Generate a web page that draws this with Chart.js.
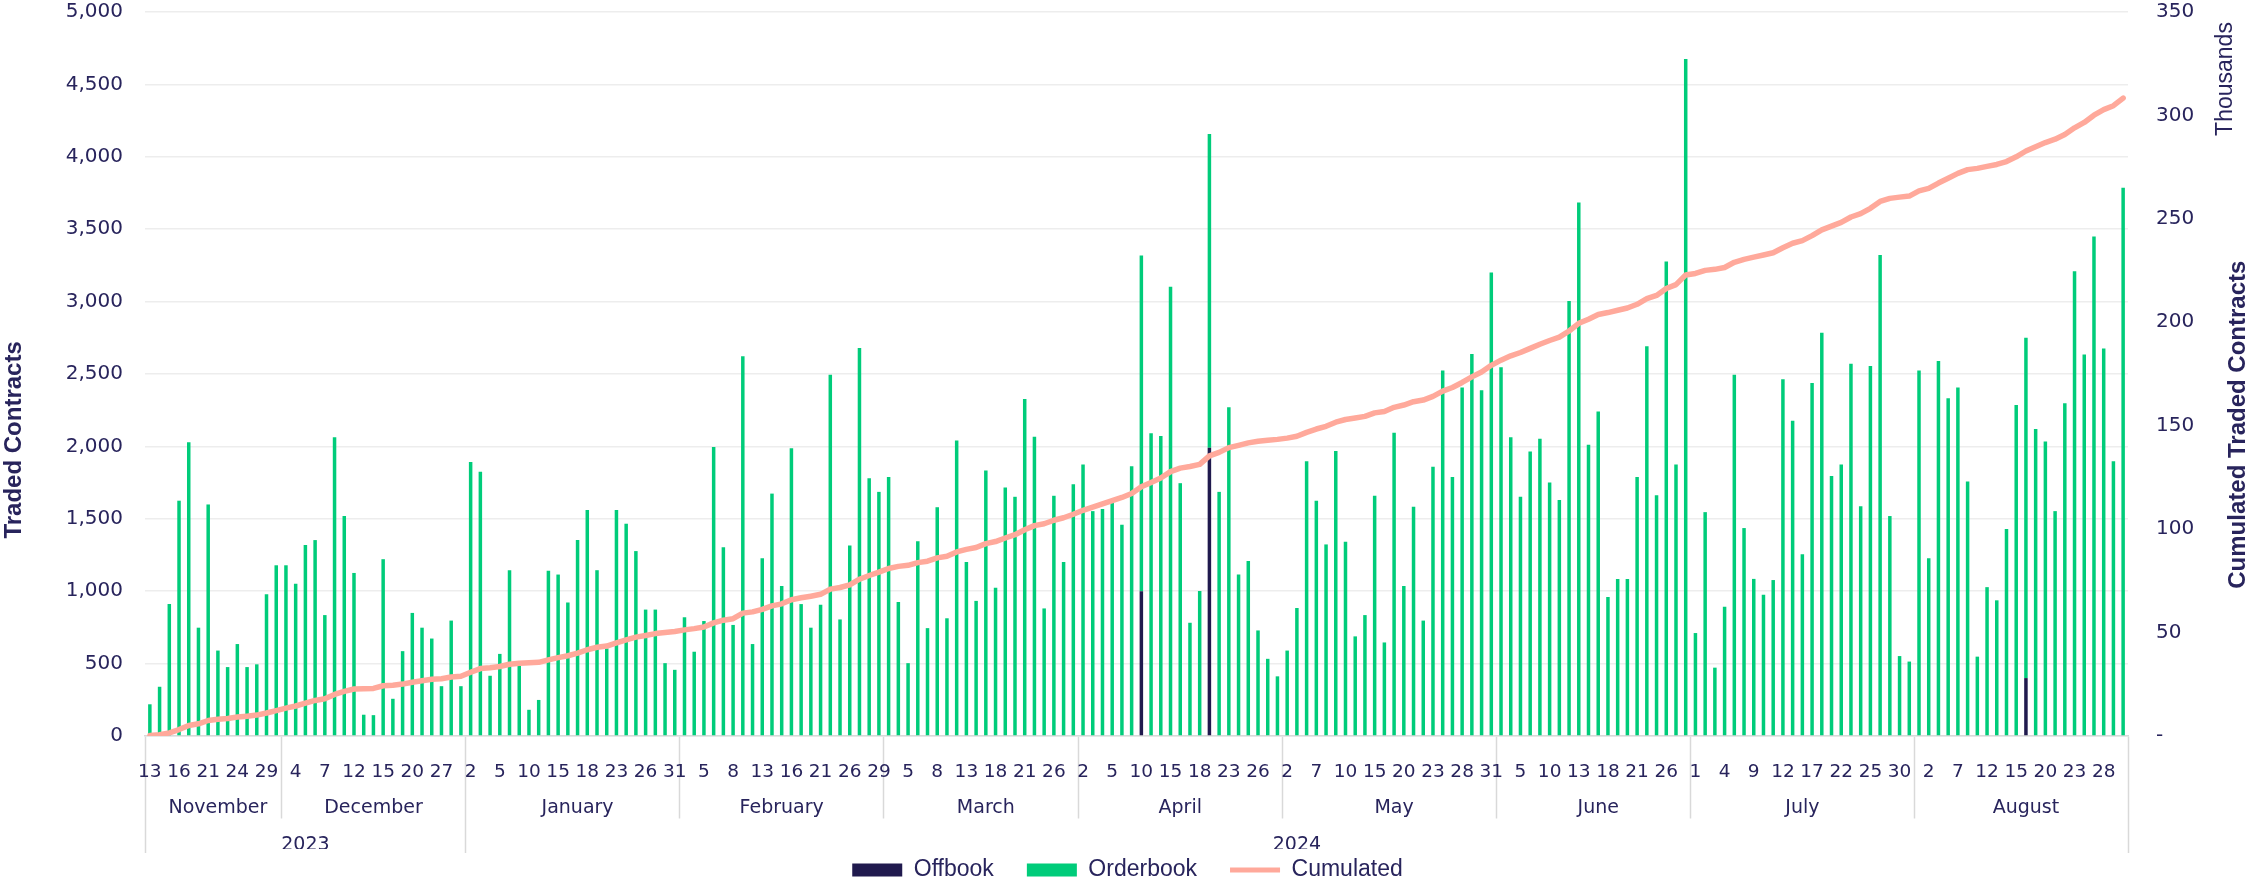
<!DOCTYPE html>
<html>
<head>
<meta charset="utf-8">
<script src="https://cdn.jsdelivr.net/npm/chart.js@4/dist/chart.umd.min.js"></script>
<style>
  html, body { margin: 0; padding: 0; background: #ffffff; }
  #graph { display: block; }
</style>
</head>
<body>
<canvas id="graph" width="2255" height="886"></canvas>
<script>
// 月名
const monthNames = ['November', 'December', 'January', 'February', 'March', 'April', 'May', 'June', 'July', 'August'];
// 月番号
const monthNumbers = [11, 12, 1, 2, 3, 4, 5, 6, 7, 8];
// 年
const monthYears = [2023, 2023, 2024, 2024, 2024, 2024, 2024, 2024, 2024, 2024];
// 取引日(月ごと)
const monthDays = [
  [13, 14, 15, 16, 17, 20, 21, 22, 23, 24, 27, 28, 29, 30],
  [1, 4, 5, 6, 7, 8, 11, 12, 13, 14, 15, 18, 19, 20, 21, 22, 27, 28, 29],
  [2, 3, 4, 5, 8, 9, 10, 11, 12, 15, 16, 17, 18, 19, 22, 23, 24, 25, 26, 29, 30, 31],
  [1, 2, 5, 6, 7, 8, 9, 12, 13, 14, 15, 16, 19, 20, 21, 22, 23, 26, 27, 28, 29],
  [1, 4, 5, 6, 7, 8, 11, 12, 13, 14, 15, 18, 19, 20, 21, 22, 25, 26, 27, 28],
  [2, 3, 4, 5, 8, 9, 10, 11, 12, 15, 16, 17, 18, 19, 22, 23, 24, 25, 26, 29, 30],
  [2, 3, 6, 7, 8, 9, 10, 13, 14, 15, 16, 17, 20, 21, 22, 23, 24, 27, 28, 29, 30, 31],
  [3, 4, 5, 6, 7, 10, 11, 12, 13, 14, 17, 18, 19, 20, 21, 24, 25, 26, 27, 28],
  [1, 2, 3, 4, 5, 8, 9, 10, 11, 12, 15, 16, 17, 18, 19, 22, 23, 24, 25, 26, 29, 30, 31],
  [1, 2, 5, 6, 7, 8, 9, 12, 13, 14, 15, 16, 19, 20, 21, 22, 23, 26, 27, 28, 29, 30]
];

// Orderbook 取引数(日ごと)
const orderbookValues = [
  219, 340, 911, 1625, 2029, 748, 1599, 590, 476, 635,
  476, 495, 979, 1179, 1179, 1051, 1319, 1353, 835, 2063,
  1519, 1126, 147, 144, 1221, 257, 586, 850, 748, 673,
  344, 797, 344, 1893, 1825, 416, 567, 1145, 484, 181,
  249, 1141, 1115, 922, 1353, 1561, 1145, 605, 1561, 1466,
  1277, 873, 873, 503, 457, 820, 582, 794, 1995, 1304,
  767, 2623, 635, 1228, 1674, 1036, 1988, 911, 748, 907,
  2494, 805, 1315, 2680, 1780, 1686, 1788, 926, 503, 1345,
  745, 1580, 813, 2041, 1202, 933, 1833, 1024, 1716, 1652,
  2328, 2067, 881, 1659, 1202, 1738, 1875, 1553, 1568, 1636,
  1459, 1863, 2318, 2090, 2071, 3103, 1746, 782, 1002, 2167,
  1686, 2271, 1115, 1209, 729, 533, 412, 590, 884, 1897,
  1625, 1323, 1969, 1342, 688, 835, 1659, 646, 2094, 1036,
  1584, 797, 1859, 2525, 1788, 2407, 2638, 2388, 3201, 2547,
  2063, 1652, 1965, 2052, 1750, 1629, 3005, 3685, 2011, 2241,
  960, 1085, 1085, 1788, 2691, 1663, 3277, 1875, 4675, 711,
  1546, 472, 892, 2494, 1436, 1085, 975, 1077, 2464, 2177,
  1255, 2438, 2785, 1795, 1875, 2570, 1587, 2555, 3322, 1519,
  552, 514, 2525, 1228, 2589, 2332, 2407, 1757, 548, 1028,
  937, 1429, 2286, 2351, 2120, 2033, 1553, 2298, 3209, 2634,
  3450, 2676, 1897, 3787
];

// Offbook 取引日と取引数
const offbookDates = ['2024-04-10', '2024-04-19', '2024-08-16'];
const offbookValues = [1000, 1990, 400];

// 累計取引数(千)
const cumulatedValues = [
  0.2, 0.6, 1.5, 3.1, 5.1, 5.9, 7.5, 8.1, 8.5, 9.2,
  9.6, 10.1, 11.1, 12.3, 13.5, 14.5, 15.9, 17.2, 18.0, 20.1,
  21.6, 22.7, 22.9, 23.0, 24.3, 24.5, 25.1, 26.0, 26.7, 27.4,
  27.7, 28.5, 28.9, 30.8, 32.6, 33.0, 33.6, 34.7, 35.2, 35.4,
  35.6, 36.8, 37.9, 38.8, 40.1, 41.7, 42.9, 43.5, 45.0, 46.5,
  47.8, 48.6, 49.5, 50.0, 50.5, 51.3, 51.9, 52.7, 54.7, 56.0,
  56.7, 59.4, 60.0, 61.2, 62.9, 63.9, 65.9, 66.8, 67.6, 68.5,
  71.0, 71.8, 73.1, 75.8, 77.6, 79.2, 81.0, 82.0, 82.5, 83.8,
  84.5, 86.1, 86.9, 89.0, 90.2, 91.1, 93.0, 94.0, 95.7, 97.3,
  99.7, 101.7, 102.6, 104.3, 105.5, 107.2, 109.1, 110.6, 112.2, 113.8,
  115.3, 117.2, 120.5, 122.6, 124.7, 127.8, 129.5, 130.3, 131.3, 135.4,
  137.1, 139.4, 140.5, 141.7, 142.5, 143.0, 143.4, 144.0, 144.9, 146.8,
  148.4, 149.7, 151.7, 153.0, 153.7, 154.5, 156.2, 156.9, 158.9, 160.0,
  161.6, 162.4, 164.2, 166.7, 168.5, 170.9, 173.6, 176.0, 179.2, 181.7,
  183.8, 185.4, 187.4, 189.4, 191.2, 192.8, 195.8, 199.5, 201.5, 203.8,
  204.7, 205.8, 206.9, 208.7, 211.4, 213.0, 216.3, 218.2, 222.9, 223.6,
  225.1, 225.6, 226.5, 229.0, 230.4, 231.5, 232.5, 233.6, 236.0, 238.2,
  239.5, 241.9, 244.7, 246.5, 248.3, 250.9, 252.5, 255.1, 258.4, 259.9,
  260.5, 261.0, 263.5, 264.7, 267.3, 269.6, 272.0, 273.8, 274.4, 275.4,
  276.3, 277.7, 280.0, 282.8, 284.9, 286.9, 288.5, 290.8, 294.0, 296.6,
  300.1, 302.8, 304.7, 308.4
];

// 軸タイトル
const LEFT_TITLE = 'Traded Contracts';
const RIGHT_TITLE = 'Cumulated Traded Contracts';
const RIGHT_UNIT = 'Thousands';

// 色
const TEXT_COLOR = '#28245c';
const OFFBOOK_COLOR = '#201a4e';
const ORDERBOOK_COLOR = '#00cc7a';
const CUMULATED_COLOR = '#ffa99b';
const GRID_COLOR = '#ededed';
const SEP_COLOR = '#d9d9d9';

// フォント
const TICK_FONT = '"DejaVu Sans", sans-serif';
const TITLE_FONT = '"Liberation Sans", Arial, sans-serif';

// 日付ラベル作成
let tradeDates = [];
let monthStarts = [];
let monthLabelAt = {};
monthDays.forEach(function(days, m) {
  monthStarts.push(tradeDates.length);
  monthLabelAt[tradeDates.length + Math.floor(days.length / 2)] = monthNames[m];
  days.forEach(function(d) {
    tradeDates.push(monthYears[m] + '-' + ('00' + monthNumbers[m]).slice(-2) + '-' + ('00' + d).slice(-2));
  });
});

// 年の区切り
let yearStarts = [];
let yearLabelAt = {};
monthYears.forEach(function(y, m) {
  if (m === 0 || monthYears[m - 1] !== y) {
    yearStarts.push(monthStarts[m]);
  }
});
yearStarts.forEach(function(s, k) {
  const e = k + 1 < yearStarts.length ? yearStarts[k + 1] : tradeDates.length;
  yearLabelAt[s + Math.floor((e - s) / 2)] = tradeDates[s].slice(0, 4);
});

// Offbook データ
const offbookData = offbookDates.map(function(d, i) {
  return {x: d, y: offbookValues[i]};
});

function isMonthEdge(c) {
  return c.index === undefined || monthStarts.includes(c.index);
}
function isYearEdge(c) {
  return c.index === undefined || yearStarts.includes(c.index);
}

/*
  縦書きの軸タイトル
*/
function drawVerticalText(ctx, text, x, y, font) {
  ctx.save();
  ctx.translate(x, y);
  ctx.rotate(-Math.PI / 2);
  ctx.font = font;
  ctx.fillStyle = TEXT_COLOR;
  ctx.textAlign = 'center';
  ctx.textBaseline = 'middle';
  ctx.fillText(text, 0, 0);
  ctx.restore();
}

const axisTitlePlugin = {
  id: 'axisTitlePlugin',
  afterDraw: function(chart) {
    const area = chart.chartArea;
    const ctx = chart.ctx;
    drawVerticalText(ctx, LEFT_TITLE, chart.scales.y.left + 14, area.top + area.height * 0.591, 'bold 24px ' + TITLE_FONT);
    drawVerticalText(ctx, RIGHT_TITLE, chart.scales.y2.right - 17, area.top + area.height * 0.570, 'bold 24px ' + TITLE_FONT);
    drawVerticalText(ctx, RIGHT_UNIT, chart.scales.y2.right - 29, area.top + 67, '23px ' + TITLE_FONT);
  }
};

const tickFont = function(size) {
  return {family: TICK_FONT, size: size};
};

// ラベル行のカテゴリ軸(高さ固定)
function labelAxis(padding, size, height, labelFn, extra) {
  return Object.assign({
    type: 'category',
    axis: 'x',
    position: 'bottom',
    offset: true,
    grid: {display: false, offset: true},
    border: {display: false},
    ticks: {
      autoSkip: false,
      maxRotation: 0,
      minRotation: 0,
      padding: padding,
      color: TEXT_COLOR,
      font: tickFont(size),
      callback: labelFn
    },
    afterFit: function(scale) { scale.height = height; }
  }, extra || {});
}

let tradedGraph = new Chart(document.getElementById('graph'), {
  type: 'bar',
  data: {
    labels: tradeDates,
    datasets: [
      {
        label: 'Offbook',
        data: offbookData,
        xAxisID: 'x',
        backgroundColor: OFFBOOK_COLOR,
        borderWidth: 0,
        barPercentage: 0.36,
        categoryPercentage: 1,
        pointStyle: 'rect',
        order: 1
      },
      {
        label: 'Orderbook',
        data: orderbookValues,
        xAxisID: 'x',
        backgroundColor: ORDERBOOK_COLOR,
        borderWidth: 0,
        barPercentage: 0.36,
        categoryPercentage: 1,
        pointStyle: 'rect',
        order: 1
      },
      {
        type: 'line',
        label: 'Cumulated',
        data: cumulatedValues,
        xAxisID: 'x',
        yAxisID: 'y2',
        borderColor: CUMULATED_COLOR,
        backgroundColor: CUMULATED_COLOR,
        borderWidth: 5.5,
        borderCapStyle: 'round',
        borderJoinStyle: 'round',
        tension: 0,
        pointRadius: 0,
        pointHoverRadius: 0,
        pointStyle: 'line',
        pointBorderColor: CUMULATED_COLOR,
        pointBorderWidth: 5,
        order: 0
      }
    ]
  },
  options: {
    responsive: false,
    animation: false,
    devicePixelRatio: 1,
    events: [],
    layout: {padding: {top: 0, left: 0, right: 0, bottom: -5.5}},
    plugins: {
      tooltip: {enabled: false},
      legend: {
        position: 'bottom',
        title: {display: true, text: '', font: {size: 1}, padding: {top: -24.7, bottom: 0}},
        labels: {
          usePointStyle: true,
          pointStyleWidth: 50,
          boxHeight: 13,
          padding: 33,
          color: TEXT_COLOR,
          font: {family: TITLE_FONT, size: 23},
          sort: function(a, b) { return a.datasetIndex - b.datasetIndex; }
        }
      }
    },
    scales: {
      // 月・年の区切り線
      xSep: {
        type: 'category',
        axis: 'x',
        position: 'bottom',
        offset: true,
        grid: {
          display: true,
          offset: true,
          drawOnChartArea: false,
          drawTicks: true,
          tickLength: 117,
          tickColor: SEP_COLOR,
          tickWidth: function(c) { return isMonthEdge(c) ? 1.5 : 0; },
          tickBorderDash: function(c) { return isYearEdge(c) ? [] : [82, 200]; }
        },
        border: {display: true, color: SEP_COLOR, width: 1.5},
        ticks: {display: false, autoSkip: false},
        afterFit: function(scale) { scale.height = 0; }
      },
      // 日
      x: labelAxis(16.9, 18.5, 46, function(value, index) {
        return index % 3 === 0 ? String(Number(this.getLabelForValue(value).slice(8))) : '';
      }, {stacked: true}),
      // 月
      xMonth: labelAxis(6.6, 19, 36, function(value, index) {
        return monthLabelAt[index] !== undefined ? monthLabelAt[index] : '';
      }),
      // 年
      xYear: labelAxis(7.6, 19, 31, function(value, index) {
        return yearLabelAt[index] !== undefined ? yearLabelAt[index] : '';
      }),
      y: {
        type: 'linear',
        position: 'left',
        stacked: true,
        min: 0,
        max: 5000,
        grid: {color: GRID_COLOR, lineWidth: 1.5, drawTicks: true, tickLength: 22, tickWidth: 0},
        border: {display: false},
        ticks: {
          stepSize: 500,
          padding: 0,
          color: TEXT_COLOR,
          font: tickFont(20)
        },
        afterFit: function(scale) { scale.width = 145; }
      },
      y2: {
        type: 'linear',
        position: 'right',
        min: 0,
        max: 350,
        grid: {drawOnChartArea: false, drawTicks: true, tickLength: 28, tickWidth: 0},
        border: {display: false},
        ticks: {
          stepSize: 50,
          padding: 0,
          color: TEXT_COLOR,
          font: tickFont(20),
          callback: function(value) { return value === 0 ? '-' : value; }
        },
        afterFit: function(scale) { scale.width = 127; }
      }
    }
  },
  plugins: [axisTitlePlugin]
});
</script>
</body>
</html>
